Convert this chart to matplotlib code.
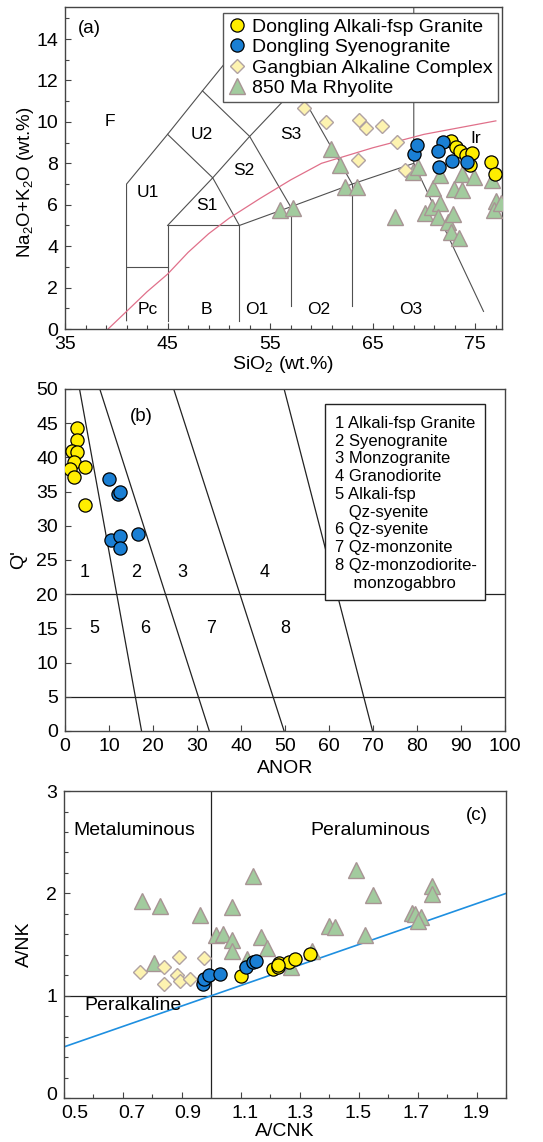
import numpy as np
import matplotlib
matplotlib.use('Agg')
import matplotlib.pyplot as plt
import matplotlib.transforms as mtransforms
from matplotlib.patches import Rectangle
from matplotlib.ticker import MultipleLocator, FixedLocator

plt.rcParams['font.family'] = ['Liberation Sans', 'DejaVu Sans']
plt.rcParams['mathtext.default'] = 'regular'

# ---- (a) TAS: SiO2 vs Na2O+K2O ----
tas_gr_sio2 = [72.6, 73.1, 73.5, 74.1, 74.7, 74.5, 76.5, 76.9]
tas_gr_alk = [9.1, 8.8, 8.6, 8.4, 8.5, 7.9, 8.05, 7.5]
tas_sy_sio2 = [69.0, 69.3, 71.8, 71.4, 71.5, 72.7, 74.2]
tas_sy_alk = [8.45, 8.9, 9.05, 8.6, 7.8, 8.1, 8.05]
tas_gb_sio2 = [58.3, 60.4, 63.7, 64.3, 65.9, 67.4, 63.6, 68.1]
tas_gb_alk = [10.65, 10.0, 10.1, 9.7, 9.8, 9.05, 8.15, 7.7]
tas_rh_sio2 = [56.0, 57.2, 60.9, 61.8, 62.3, 63.5, 67.2, 68.9, 69.4, 70.1, 70.8,
               70.9, 71.6, 71.4, 71.6, 72.3, 72.8, 72.6, 73.4, 72.9, 73.7, 73.7,
               74.9, 76.6, 77.0, 76.8, 77.5]
tas_rh_alk = [5.75, 5.85, 8.7, 7.9, 6.85, 6.85, 5.4, 7.6, 7.8, 5.6, 5.9,
              6.8, 6.1, 5.4, 7.45, 5.15, 5.55, 4.7, 4.4, 6.75, 6.7, 7.5,
              7.35, 7.2, 6.2, 5.75, 6.1]

# alkaline / subalkaline divide (Ir)
ir_sio2 = [39.2, 41, 43, 45, 47, 49, 51, 54, 57, 60, 65, 70, 77]
ir_alk = [0, 0.85, 1.8, 2.65, 3.7, 4.6, 5.35, 6.3, 7.2, 8.0, 8.75, 9.4, 10.05]

# TAS field boundaries
tas_fields = [
    [(41, 0.4), (41, 7), (45, 9.4), (48.4, 11.5), (52.5, 14)],
    [(41, 3), (45, 3)],
    [(45, 0.4), (45, 5), (52, 5), (52, 0.4)],
    [(45, 5), (49.4, 7.3), (52, 5)],
    [(52, 5), (57, 5.9), (63, 7), (69, 8), (69, 17)],
    [(57, 1.1), (57, 5.9)],
    [(63, 1.1), (63, 7)],
    [(69, 8), (75.8, 0.85)],
    [(45, 9.4), (49.4, 7.3), (53, 9.3), (57, 5.9)],
    [(48.4, 11.5), (53, 9.3), (57.6, 11.7), (63, 7)],
    [(52.5, 14), (57.6, 11.7)],
]
tas_names = [('F', 39.4, 10.0), ('U1', 43.1, 6.6), ('U2', 48.3, 9.4), ('S1', 48.8, 5.95),
             ('S2', 52.4, 7.65), ('S3', 57.0, 9.4), ('Pc', 43.1, 0.93), ('B', 48.8, 0.93),
             ('O1', 53.7, 0.93), ('O2', 59.7, 0.93), ('O3', 68.7, 0.93), ('Ir', 75.0, 9.2)]

# ---- (b) Q' vs ANOR ----
qa_gr_anor = [2.7, 2.7, 1.7, 2.7, 2.0, 1.1, 2.0, 4.5, 4.5]
qa_gr_q = [44.3, 42.6, 40.9, 40.8, 39.3, 38.3, 37.1, 38.6, 33.1]
qa_sy_anor = [9.9, 12.0, 12.6, 10.5, 12.6, 12.6, 16.5]
qa_sy_q = [36.9, 34.7, 35.0, 27.9, 28.5, 26.7, 28.8]

qa_top = [3.3, 7.9, 24.7, 49.8]     # ANOR of each boundary at Q' = 50
qa_bot = [17.4, 32.8, 49.8, 69.9]   # ANOR of each boundary at Q' = 0
qa_names = [('1', 4.5, 23.1), ('2', 16.2, 23.1), ('3', 26.7, 23.1), ('4', 45.4, 23.1),
            ('5', 6.7, 15.0), ('6', 18.3, 15.0), ('7', 33.3, 15.0), ('8', 50.1, 15.0)]
qa_key = ['1 Alkali-fsp Granite', '2 Syenogranite', '3 Monzogranite', '4 Granodiorite',
          '5 Alkali-fsp', '   Qz-syenite', '6 Qz-syenite', '7 Qz-monzonite',
          '8 Qz-monzodiorite-', '    monzogabbro']

# ---- (c) A/NK vs A/CNK ----
cn_gr_acnk = [1.10, 1.21, 1.225, 1.23, 1.265, 1.285, 1.335, 1.225]
cn_gr_ank = [1.19, 1.26, 1.28, 1.32, 1.33, 1.36, 1.41, 1.30]
cn_sy_acnk = [0.971, 0.976, 0.993, 1.03, 1.117, 1.141, 1.152]
cn_sy_ank = [1.11, 1.16, 1.20, 1.21, 1.28, 1.33, 1.34]
cn_gb_acnk = [0.758, 0.838, 0.89, 0.975, 0.84, 0.882, 0.893, 0.926]
cn_gb_ank = [1.23, 1.28, 1.38, 1.37, 1.11, 1.20, 1.14, 1.16]
cn_rh_acnk = [0.764, 0.826, 0.962, 1.07, 1.143, 1.49, 1.55, 1.75, 1.75, 1.40, 1.42,
              1.68, 1.69, 1.71, 1.70, 1.52, 1.016, 1.04, 1.07, 1.17, 1.19, 1.07,
              1.34, 0.806, 1.12, 1.27]
cn_rh_ank = [1.93, 1.88, 1.79, 1.87, 2.17, 2.23, 1.98, 2.07, 1.99, 1.68, 1.67,
             1.81, 1.80, 1.77, 1.73, 1.59, 1.59, 1.60, 1.54, 1.57, 1.47, 1.44,
             1.44, 1.32, 1.36, 1.28]

labels = ['Dongling Alkali-fsp Granite', 'Dongling Syenogranite',
          'Gangbian Alkaline Complex', '850 Ma Rhyolite']

GR = dict(marker='o', ms=9.5, mfc='#ffee00', mec='black', mew=0.9, ls='none', zorder=5)
SY = dict(marker='o', ms=9.5, mfc='#1a7fd4', mec='black', mew=0.9, ls='none', zorder=6)
GB = dict(marker='D', ms=7, mfc='#fdf3b0', mec='#b0a2a2', mew=1.0, ls='none', zorder=4)
RH = dict(marker='^', ms=11, mfc='#a2cb9e', mec='#a89494', mew=1.0, ls='none', zorder=3)
LINE = '#505050'


def style_axes(ax):
    for s in ax.spines.values():
        s.set_color('#444444')
        s.set_linewidth(1.0)
    ax.tick_params(which='both', direction='in', color='#444444', width=0.8,
                   labelsize=14, pad=5, top=False, right=False)
    ax.tick_params(which='major', length=4)
    ax.tick_params(which='minor', length=3)


def shift_label(fig, label, dx_px, dy_px):
    off = mtransforms.ScaledTranslation(dx_px / fig.dpi, dy_px / fig.dpi, fig.dpi_scale_trans)
    label.set_transform(label.get_transform() + off)


fig = plt.figure(figsize=(5.43, 11.42), dpi=100)

# (a)
ax1 = fig.add_axes([0.1197, 0.7119, 0.8048, 0.2820])
for seg in tas_fields:
    xs, ys = zip(*seg)
    ax1.plot(xs, ys, color=LINE, lw=0.8, zorder=1)
ax1.plot(ir_sio2, ir_alk, color='#e0708a', lw=0.9, zorder=1)
for name, x, y in tas_names:
    ax1.text(x, y, name, fontsize=12.5, ha='center', va='center')
ax1.text(37.4, 14.5, '(a)', fontsize=13.5, ha='center', va='center')
ax1.plot(tas_gr_sio2, tas_gr_alk, label=labels[0], **GR)
ax1.plot(tas_sy_sio2, tas_sy_alk, label=labels[1], **SY)
ax1.plot(tas_gb_sio2, tas_gb_alk, label=labels[2], **GB)
ax1.plot(tas_rh_sio2, tas_rh_alk, label=labels[3], **RH)
ax1.set_xlim(35, 77.6)
ax1.set_ylim(0, 15.55)
ax1.set_xticks([35, 45, 55, 65, 75])
ax1.xaxis.set_minor_locator(FixedLocator(np.arange(35, 78, 2)))
ax1.set_yticks(np.arange(0, 15, 2))
ax1.yaxis.set_minor_locator(MultipleLocator(1))
ax1.set_xlabel('SiO$_2$ (wt.%)', fontsize=14, labelpad=1)
ax1.set_ylabel('Na$_2$O+K$_2$O (wt.%)', fontsize=13.5)
ax1.yaxis.set_label_coords(-0.066, 0.455)
style_axes(ax1)
leg = ax1.legend(loc='upper right', bbox_to_anchor=(0.99, 0.981), borderaxespad=0,
                 fancybox=False, framealpha=1, edgecolor='#555555', fontsize=14,
                 handlelength=0.9, handletextpad=0.35, labelspacing=0.15,
                 borderpad=0.25)
leg.get_frame().set_linewidth(1.0)
leg.set_zorder(10)

# (b)
ax2 = fig.add_axes([0.1197, 0.3599, 0.8103, 0.2995])
for t, b in zip(qa_top, qa_bot):
    ax2.plot([t, b], [50, 0], color='#222222', lw=0.9, zorder=1)
ax2.axhline(20, color='#222222', lw=0.9, zorder=1)
ax2.axhline(5, color='#222222', lw=0.9, zorder=1)
for name, x, y in qa_names:
    ax2.text(x, y, name, fontsize=13, ha='center', va='center')
ax2.text(17.4, 46, '(b)', fontsize=13.5, ha='center', va='center')
ax2.add_patch(Rectangle((0.591, 0.383), 0.364, 0.573, transform=ax2.transAxes,
                        facecolor='white', edgecolor='#222222', lw=1.0, zorder=3))
for i, line in enumerate(qa_key):
    ax2.text(0.614, 0.8997 - i * 0.052, line, transform=ax2.transAxes,
             fontsize=12, ha='left', va='center', zorder=4)
ax2.plot(qa_gr_anor, qa_gr_q, **GR)
ax2.plot(qa_sy_anor, qa_sy_q, **SY)
ax2.set_xlim(0, 100)
ax2.set_ylim(0, 50)
ax2.set_xticks(np.arange(0, 101, 10))
ax2.set_yticks(np.arange(0, 51, 5))
ax2.set_xlabel('ANOR', fontsize=14, labelpad=4)
ax2.set_ylabel("Q'", fontsize=14)
ax2.yaxis.set_label_coords(-0.085, 0.5)
style_axes(ax2)

# (c)
ax3 = fig.add_axes([0.1179, 0.0385, 0.8140, 0.2688])
ax3.axvline(1.0, color='#222222', lw=0.9, zorder=1)
ax3.axhline(1.0, color='#222222', lw=0.9, zorder=1)
ax3.plot([0.5, 2.0], [0.5, 2.0], color='#1e8fe0', lw=1.2, zorder=1)
ax3.text(0.74, 2.61, 'Metaluminous', fontsize=14, ha='center', va='center')
ax3.text(1.54, 2.61, 'Peraluminous', fontsize=14, ha='center', va='center')
ax3.text(0.735, 0.905, 'Peralkaline', fontsize=14, ha='center', va='center')
ax3.text(1.90, 2.76, '(c)', fontsize=13.5, ha='center', va='center')
ax3.plot(cn_rh_acnk, cn_rh_ank, **RH)
ax3.plot(cn_gb_acnk, cn_gb_ank, **GB)
ax3.plot(cn_gr_acnk, cn_gr_ank, **GR)
ax3.plot(cn_sy_acnk, cn_sy_ank, **SY)
ax3.set_xlim(0.5, 2.0)
ax3.set_ylim(0, 3)
ax3.set_xticks(np.arange(0.5, 1.95, 0.2))
ax3.xaxis.set_minor_locator(MultipleLocator(0.1))
ax3.set_yticks([0, 1, 2, 3])
ax3.yaxis.set_minor_locator(MultipleLocator(0.2))
ax3.set_xlabel('A/CNK', fontsize=14, labelpad=1)
ax3.set_ylabel('A/NK', fontsize=14)
ax3.yaxis.set_label_coords(-0.07, 0.5)
style_axes(ax3)

# the A/CNK tick labels sit a little right of their ticks, "0" a little high
for lab, dx in zip(ax3.xaxis.get_majorticklabels(), [11, 9, 6, 4, 0, -1, -2, -1]):
    shift_label(fig, lab, dx, 0)
shift_label(fig, ax3.yaxis.get_majorticklabels()[0], 0, 5)

fig.savefig('out.png', dpi=100)
